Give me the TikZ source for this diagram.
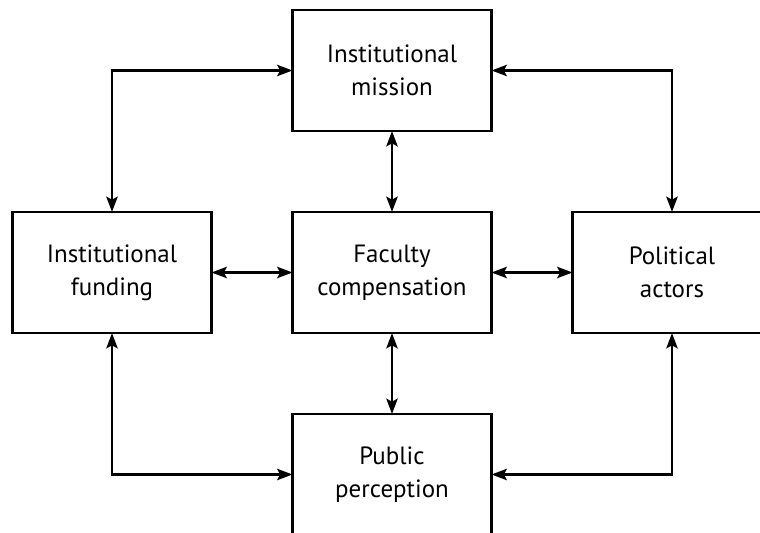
\documentclass[tikz,border=0pt]{standalone}
\usepackage{fontspec}
\setmainfont{PT Sans}
\usetikzlibrary{arrows.meta,positioning}

\begin{document}
\begin{tikzpicture}[
  box/.style={draw, line width=2.2pt, minimum width=5.97cm, minimum height=3.63cm, align=center, font=\fontsize{21.3}{28}\selectfont, outer sep=0pt},
  arrow/.style={{Stealth[length=4.6mm, width=3.4mm, inset=0.9mm]}-{Stealth[length=4.6mm, width=3.4mm, inset=0.9mm]}, line width=2.1pt},
]
\useasboundingbox (0,0) rectangle (22.8,-15.99);
\clip (0,0) rectangle (22.8,-15.99);

\node[box] (fac) at (11.76,-8.175) {Faculty\\compensation};
\node[box, above=2.43cm of fac] (mis) {Institutional\\mission};
\node[box, below=2.43cm of fac] (pub) {Public\\perception};
\node[box, left=2.43cm of fac] (fund) {Institutional\\funding};
\node[box, right=2.43cm of fac] (pol) {Political\\actors};

\draw[arrow] (mis) -- (fac);
\draw[arrow] (fac) -- (pub);
\draw[arrow] (fund) -- (fac);
\draw[arrow] (fac) -- (pol);

\draw[arrow] (mis.west) -| (fund.north);
\draw[arrow] (mis.east) -| (pol.north);
\draw[arrow] (fund.south) |- (pub.west);
\draw[arrow] (pol.south) |- (pub.east);

\end{tikzpicture}
\end{document}
